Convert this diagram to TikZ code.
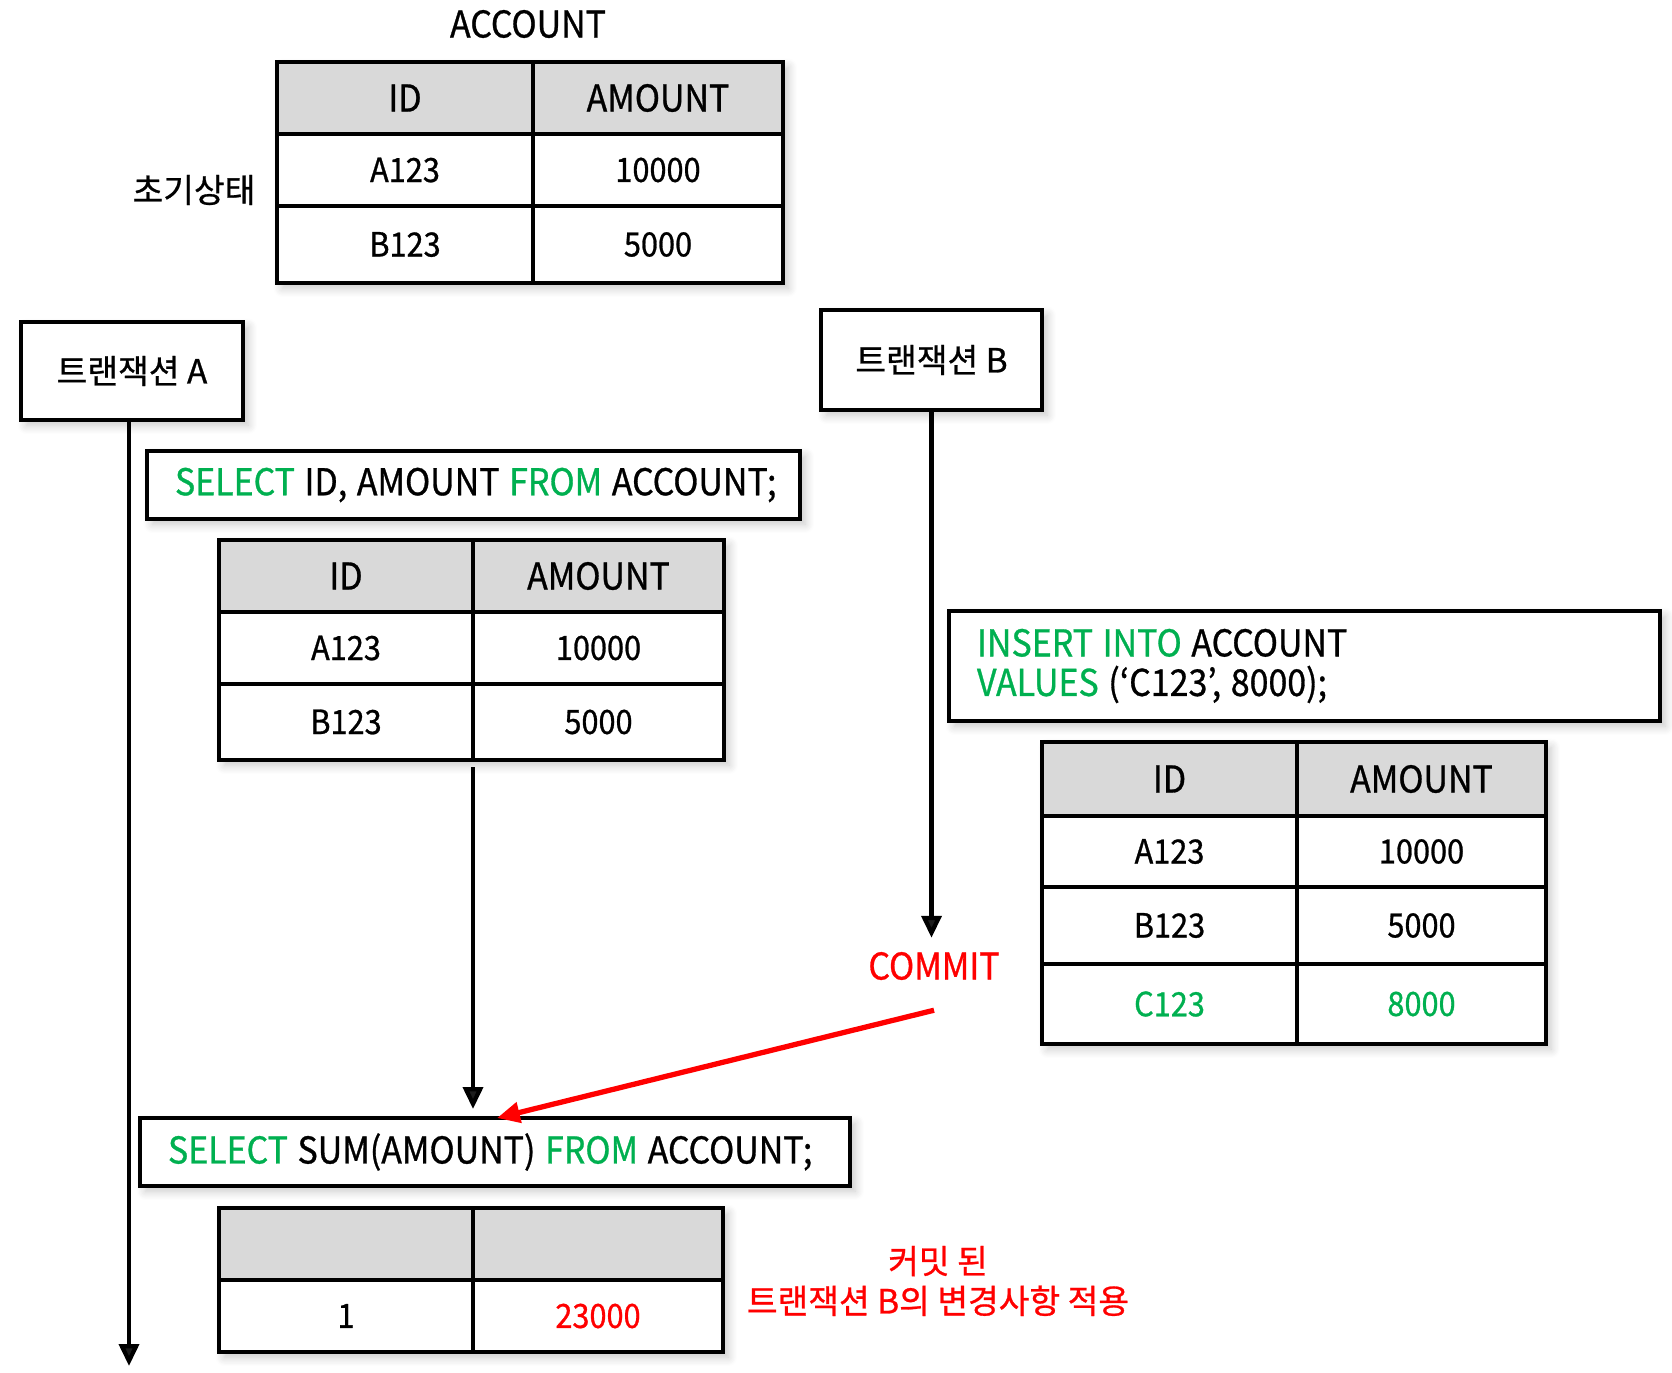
\documentclass[tikz,border=0pt]{standalone}
\usepackage{fontspec}
\setmainfont{Noto Sans CJK KR}[FakeStretch=0.92, FakeBold=0.8]
\newfontfamily\korfont{Noto Sans CJK KR}[FakeBold=0.8]
\usetikzlibrary{arrows.meta,shadows.blur}
\definecolor{sqlgreen}{HTML}{00B050}
\definecolor{hdrgray}{HTML}{D9D9D9}
\definecolor{alertred}{HTML}{FF0000}
\newcommand\pxu{0.02cm}
\newcommand\qs{\hspace{0.26em}}
\newcommand\fsLat{\fontsize{21pt}{22.5pt}\selectfont}
\newcommand\fsBody{\fontsize{19pt}{23pt}\selectfont}
\newcommand\fsKor{\korfont\fontsize{19pt}{22.7pt}\selectfont}
% name, x1, y1, x2, y2, fill, text
\newcommand\tcell[7]{%
  \node[cellbox, fill=#6, minimum width={(#4-#2)*\pxu}, minimum height={(#5-#3)*\pxu}] (#1) at (#2,#3) {#7};}
\newcommand\tshadow[4]{%
  \path[tabshadow] (#1,#2) rectangle (#3,#4);}
\begin{document}
\begin{tikzpicture}[x=0.02cm,y=-0.02cm,
  softshadow/.style={blur shadow={shadow blur steps=8, shadow xshift=3pt, shadow yshift=-3pt, shadow opacity=22, shadow blur radius=5pt}},
  cellbox/.style={draw, line width=2.27pt, outer sep=0pt, inner sep=0pt, anchor=north west},
  tabshadow/.style={fill=white, softshadow},
  plainbox/.style={draw, fill=white, line width=2.27pt, outer sep=0pt, inner sep=0pt, anchor=north west, softshadow},
  arr/.style={line width=2.4pt, -{Triangle[length=12.5pt, width=11.3pt]}},
  redarr/.style={line width=3pt, alertred, -{Triangle[length=13pt, width=11.5pt]}},
]
\useasboundingbox (0,0) rectangle (1672,1372);

% ---------- initial table ----------
\node[font=\fsLat] (title) at (528,24) {ACCOUNT};
\node[font=\fsKor] (init) at (194,190) {초기상태};
\tshadow{277}{62}{783}{283}
\begin{scope}[every node/.append style={font=\fsLat}]
\tcell{t1a}{277}{62}{533}{134}{hdrgray}{ID}
\tcell{t1b}{533}{62}{783}{134}{hdrgray}{AMOUNT}
\end{scope}
\begin{scope}[every node/.append style={font=\fsBody}]
\tcell{t1c}{277}{134}{533}{206}{white}{A123}
\tcell{t1d}{533}{134}{783}{206}{white}{10000}
\tcell{t1e}{277}{206}{533}{283}{white}{B123}
\tcell{t1f}{533}{206}{783}{283}{white}{5000}
\end{scope}

% ---------- transaction A ----------
\node[plainbox, font=\fsKor, minimum width={222*\pxu}, minimum height={98*\pxu}] (boxA) at (21,322) {트랜잭션 A};
\coordinate (aEnd) at (129,1366);
\draw[arr] (boxA.south -| aEnd) -- (aEnd);

\node[plainbox, font=\fsLat, inner xsep={28*\pxu}, text width={(653-56)*\pxu}, align=left, minimum height={68*\pxu}] (sel1) at (147,451)
  {\mbox{\textcolor{sqlgreen}{SELECT}\qs ID,\qs AMOUNT\qs\textcolor{sqlgreen}{FROM}\qs ACCOUNT;}};

\tshadow{219}{540}{724}{760}
\begin{scope}[every node/.append style={font=\fsLat}]
\tcell{t2a}{219}{540}{473}{612}{hdrgray}{ID}
\tcell{t2b}{473}{540}{724}{612}{hdrgray}{AMOUNT}
\end{scope}
\begin{scope}[every node/.append style={font=\fsBody}]
\tcell{t2c}{219}{612}{473}{684}{white}{A123}
\tcell{t2d}{473}{612}{724}{684}{white}{10000}
\tcell{t2e}{219}{684}{473}{760}{white}{B123}
\tcell{t2f}{473}{684}{724}{760}{white}{5000}
\end{scope}

\node[plainbox, font=\fsLat, inner xsep={28*\pxu}, text width={(710-56)*\pxu}, align=left, minimum height={68*\pxu}] (sum) at (140,1118)
  {\mbox{\textcolor{sqlgreen}{SELECT}\qs SUM(AMOUNT)\qs\textcolor{sqlgreen}{FROM}\qs ACCOUNT;}};

\draw[arr] ([yshift={-7*\pxu}]t2e.south east) -- ([yshift={9*\pxu}]t2e.south east |- sum.north);

\tshadow{219}{1208}{723}{1352}
\tcell{t4a}{219}{1208}{473}{1280}{hdrgray}{}
\tcell{t4b}{473}{1208}{723}{1280}{hdrgray}{}
\begin{scope}[every node/.append style={font=\fsBody}]
\tcell{t4c}{219}{1280}{473}{1352}{white}{1}
\tcell{t4d}{473}{1280}{723}{1352}{white}{\textcolor{alertred}{23000}}
\end{scope}

\node[font=\fsKor, text=alertred, align=center] (note) at (938,1281) {커밋 된\\트랜잭션 B의 변경사항 적용};

% ---------- transaction B ----------
\node[plainbox, font=\fsKor, minimum width={221*\pxu}, minimum height={100*\pxu}] (boxB) at (821,310) {트랜잭션 B};
\node[font=\fsLat, text=alertred] (commit) at (934,966) {COMMIT};
\draw[arr] (boxB.south) -- ([yshift={8*\pxu}]boxB.south |- commit.north);

\node[plainbox, font=\fsLat, inner xsep={28*\pxu}, text width={(711-56)*\pxu}, align=left, minimum height={110*\pxu}] (ins) at (949,611)
  {\mbox{\textcolor{sqlgreen}{INSERT\qs INTO}\qs ACCOUNT}\\\mbox{\textcolor{sqlgreen}{VALUES}\qs(‘C123’,\qs 8000);}};

\tshadow{1042}{742}{1546}{1044}
\begin{scope}[every node/.append style={font=\fsLat}]
\tcell{t3a}{1042}{742}{1297}{816}{hdrgray}{ID}
\tcell{t3b}{1297}{742}{1546}{816}{hdrgray}{AMOUNT}
\end{scope}
\begin{scope}[every node/.append style={font=\fsBody}]
\tcell{t3c}{1042}{816}{1297}{887}{white}{A123}
\tcell{t3d}{1297}{816}{1546}{887}{white}{10000}
\tcell{t3e}{1042}{887}{1297}{964}{white}{B123}
\tcell{t3f}{1297}{887}{1546}{964}{white}{5000}
\tcell{t3g}{1042}{964}{1297}{1044}{white}{\textcolor{sqlgreen}{C123}}
\tcell{t3h}{1297}{964}{1546}{1044}{white}{\textcolor{sqlgreen}{8000}}
\end{scope}

\coordinate (redTip) at (497,1118);
\draw[redarr] ([yshift={-24*\pxu}]commit.south) -- (redTip);
\end{tikzpicture}
\end{document}
